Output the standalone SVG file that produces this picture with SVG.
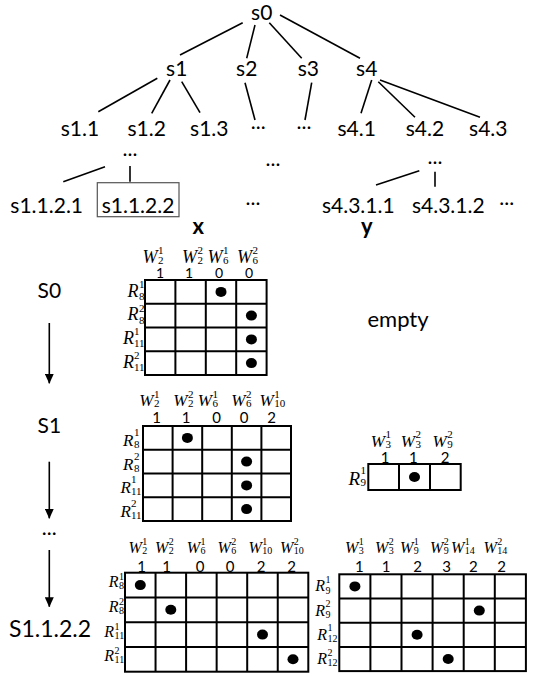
<svg xmlns="http://www.w3.org/2000/svg" width="537" height="674" viewBox="0 0 537 674">
<style>
.t{font-family:Lato,"Noto Sans","DejaVu Sans",sans-serif;font-size:21px;fill:#000;text-anchor:middle}
.b{font-family:Lato,"Noto Sans",sans-serif;font-size:22px;font-weight:bold;text-anchor:middle}
.e{stroke:#000;stroke-width:1.6;fill:none}
.grid{stroke:#000;stroke-width:2;fill:none}
.dot{fill:#000}
.v{font-family:"Liberation Serif","Times New Roman",serif;font-style:italic;fill:#000}
.s{font-style:normal}
.n{font-family:Lato,"Noto Sans",sans-serif;fill:#000;text-anchor:middle}
.arr{stroke:#000;stroke-width:1.6;fill:none}
</style>
<defs>
<marker id="ah" markerUnits="userSpaceOnUse" markerWidth="10" markerHeight="9" refX="9.5" refY="4.5" orient="auto" viewBox="0 0 10 9">
<path d="M0,0 L10,4.5 L0,9 Z" fill="#000"/>
</marker>
</defs>
<rect width="537" height="674" fill="#fff"/>

<g id="connectors">
<line class="e" x1="242.7" y1="22.7" x2="180" y2="55"/>
<line class="e" x1="255" y1="25" x2="246.7" y2="58.3"/>
<line class="e" x1="269.3" y1="22.7" x2="301.7" y2="58.3"/>
<line class="e" x1="280" y1="15" x2="360" y2="58.3"/>
<line class="e" x1="157.3" y1="78.3" x2="98.3" y2="111.7"/>
<line class="e" x1="170" y1="80" x2="151.7" y2="113.3"/>
<line class="e" x1="181.7" y1="81.7" x2="200" y2="112.7"/>
<line class="e" x1="245" y1="82.7" x2="255" y2="120"/>
<line class="e" x1="311.7" y1="82.7" x2="305" y2="120"/>
<line class="e" x1="371.7" y1="80" x2="361" y2="113.3"/>
<line class="e" x1="378.3" y1="81.7" x2="415" y2="117.3"/>
<line class="e" x1="380" y1="80" x2="480" y2="117.3"/>
<line class="e" x1="105" y1="166.7" x2="63.3" y2="181.7"/>
<line class="e" x1="130" y1="166" x2="130" y2="181.7"/>
<line class="e" x1="419.3" y1="170.7" x2="376" y2="185"/>
<line class="e" x1="435" y1="171.7" x2="435" y2="186.7"/>
<line class="arr" x1="49.3" y1="323" x2="49.3" y2="383.3" marker-end="url(#ah)"/>
<line class="arr" x1="49.3" y1="461.7" x2="49.3" y2="518.3" marker-end="url(#ah)"/>
<line class="arr" x1="49.3" y1="550" x2="49.3" y2="606.7" marker-end="url(#ah)"/>
</g>

<g id="s0"><text class="t" x="261.7" y="20">s0</text></g>
<g id="s1"><text class="t" x="176.7" y="76">s1</text></g>
<g id="s2"><text class="t" x="246.7" y="76">s2</text></g>
<g id="s3"><text class="t" x="308.3" y="76">s3</text></g>
<g id="s4"><text class="t" x="366.7" y="76">s4</text></g>
<g id="s1_1"><text class="t" x="80" y="136">s1.1</text></g>
<g id="s1_2"><text class="t" x="146.7" y="136">s1.2</text></g>
<g id="s1_3"><text class="t" x="209.3" y="136">s1.3</text></g>
<g id="s2_more"><text class="t" x="258.3" y="129">...</text></g>
<g id="s3_more"><text class="t" x="304" y="129">...</text></g>
<g id="s4_1"><text class="t" x="356.7" y="136">s4.1</text></g>
<g id="s4_2"><text class="t" x="425" y="136">s4.2</text></g>
<g id="s4_3"><text class="t" x="488.3" y="136">s4.3</text></g>
<g id="s1_2_more"><text class="t" x="130" y="156">...</text></g>
<g id="mid_more"><text class="t" x="273" y="166">...</text></g>
<g id="s4_3_more"><text class="t" x="435" y="163.5">...</text></g>
<g id="s1_1_2_1"><text class="t" x="46.7" y="213">s1.1.2.1</text></g>
<g id="s1_1_2_2"><rect x="97.3" y="182.7" width="81.7" height="34" fill="none" stroke="#555" stroke-width="1.2"/><text class="t" x="138" y="213">s1.1.2.2</text></g>
<g id="row4_more"><text class="t" x="253" y="204.5">...</text></g>
<g id="s4_3_1_1"><text class="t" x="358.3" y="213">s4.3.1.1</text></g>
<g id="s4_3_1_2"><text class="t" x="448.3" y="213">s4.3.1.2</text></g>
<g id="row4_more2"><text class="t" x="506.7" y="204.5">...</text></g>
<g id="label_x"><text class="b" x="198.3" y="234">x</text></g>
<g id="label_y"><text class="b" x="366.7" y="234">y</text></g>

<g id="stage_S0"><text class="t" x="49.3" y="298.3">S0</text></g>
<g id="stage_S1"><text class="t" x="49.3" y="433.3">S1</text></g>
<g id="stage_more"><text class="t" x="49.3" y="534.5">...</text></g>
<g id="stage_S1_1_2_2"><text class="t" x="50" y="636.7" style="font-size:23px">S1.1.2.2</text></g>

<g id="empty"><text class="t" x="398" y="327" style="font-size:22px">empty</text></g>

<!-- Matrix 1 -->
<g id="matrix1">
<rect class="grid" x="145" y="280" width="121.6" height="95"/>
<path class="grid" d="M175.4,280V375M205.8,280V375M236.2,280V375M145,303.75H266.6M145,327.5H266.6M145,351.25H266.6"/>
<ellipse class="dot" cx="221" cy="291.9" rx="5.5" ry="5"/>
<ellipse class="dot" cx="251.4" cy="315.6" rx="5.5" ry="5"/>
<ellipse class="dot" cx="251.4" cy="339.4" rx="5.5" ry="5"/>
<ellipse class="dot" cx="251.4" cy="363.1" rx="5.5" ry="5"/>
<g font-size="18">
<text class="v"><tspan x="142.5" y="263">W</tspan><tspan class="s" font-size="11" x="158" y="254">1</tspan><tspan class="s" font-size="11" x="158" y="264">2</tspan></text>
<text class="v"><tspan x="182" y="263">W</tspan><tspan class="s" font-size="11" x="197.5" y="254">2</tspan><tspan class="s" font-size="11" x="197.5" y="264">2</tspan></text>
<text class="v"><tspan x="207.5" y="263">W</tspan><tspan class="s" font-size="11" x="223" y="254">1</tspan><tspan class="s" font-size="11" x="223" y="264">6</tspan></text>
<text class="v"><tspan x="237" y="263">W</tspan><tspan class="s" font-size="11" x="252.5" y="254">2</tspan><tspan class="s" font-size="11" x="252.5" y="264">6</tspan></text>
<text class="v"><tspan x="127.5" y="296.6">R</tspan><tspan class="s" font-size="11" x="139" y="288">1</tspan><tspan class="s" font-size="11" x="139" y="300">8</tspan></text>
<text class="v"><tspan x="127.5" y="320.4">R</tspan><tspan class="s" font-size="11" x="139" y="311.6">2</tspan><tspan class="s" font-size="11" x="139" y="323.6">8</tspan></text>
<text class="v"><tspan x="123" y="344.1">R</tspan><tspan class="s" font-size="11" x="134" y="335.4">1</tspan><tspan class="s" font-size="11" x="134" y="347.4">11</tspan></text>
<text class="v"><tspan x="123" y="367.9">R</tspan><tspan class="s" font-size="11" x="134" y="359.1">2</tspan><tspan class="s" font-size="11" x="134" y="371.1">11</tspan></text>
</g>
<g font-size="14">
<text class="n" x="160" y="277.5">1</text><text class="n" x="189" y="277.5">1</text><text class="n" x="219" y="277.5">0</text><text class="n" x="249" y="277.5">0</text>
</g>
</g>

<!-- Matrix 2 -->
<g id="matrix2">
<rect class="grid" x="143" y="426" width="148" height="95"/>
<path class="grid" d="M172.6,426V521M202.2,426V521M231.8,426V521M261.4,426V521M143,449.75H291M143,473.5H291M143,497.25H291"/>
<ellipse class="dot" cx="187.4" cy="437.9" rx="5.5" ry="5"/>
<ellipse class="dot" cx="246.6" cy="461.6" rx="5.5" ry="5"/>
<ellipse class="dot" cx="246.6" cy="485.4" rx="5.5" ry="5"/>
<ellipse class="dot" cx="246.6" cy="509.1" rx="5.5" ry="5"/>
<g font-size="17">
<text class="v"><tspan x="139.3" y="406">W</tspan><tspan class="s" font-size="11" x="154" y="397.5">1</tspan><tspan class="s" font-size="11" x="154" y="407">2</tspan></text>
<text class="v"><tspan x="173.3" y="406">W</tspan><tspan class="s" font-size="11" x="188" y="397.5">2</tspan><tspan class="s" font-size="11" x="188" y="407">2</tspan></text>
<text class="v"><tspan x="197.8" y="406">W</tspan><tspan class="s" font-size="11" x="212.5" y="397.5">1</tspan><tspan class="s" font-size="11" x="212.5" y="407">6</tspan></text>
<text class="v"><tspan x="231.3" y="406">W</tspan><tspan class="s" font-size="11" x="246" y="397.5">2</tspan><tspan class="s" font-size="11" x="246" y="407">6</tspan></text>
<text class="v"><tspan x="259.5" y="406">W</tspan><tspan class="s" font-size="11" x="274.2" y="397.5">1</tspan><tspan class="s" font-size="11" x="274.2" y="407">10</tspan></text>
<text class="v"><tspan x="123.1" y="445.9">R</tspan><tspan class="s" font-size="11" x="134" y="435.9">1</tspan><tspan class="s" font-size="11" x="134" y="447.9">8</tspan></text>
<text class="v"><tspan x="123.1" y="469.6">R</tspan><tspan class="s" font-size="11" x="134" y="459.6">2</tspan><tspan class="s" font-size="11" x="134" y="471.6">8</tspan></text>
<text class="v"><tspan x="120.6" y="493.4">R</tspan><tspan class="s" font-size="11" x="131" y="483.4">1</tspan><tspan class="s" font-size="11" x="131" y="495.4">11</tspan></text>
<text class="v"><tspan x="120.6" y="517.1">R</tspan><tspan class="s" font-size="11" x="131" y="507.1">2</tspan><tspan class="s" font-size="11" x="131" y="519.1">11</tspan></text>
</g>
<g font-size="15">
<text class="n" x="156.7" y="423">1</text><text class="n" x="186" y="423">1</text><text class="n" x="216.7" y="423">0</text><text class="n" x="244" y="423">0</text><text class="n" x="271.7" y="423">2</text>
</g>
</g>

<!-- Matrix 3 -->
<g id="matrix3">
<rect class="grid" x="368.3" y="464" width="92.4" height="26"/>
<path class="grid" d="M399,464V490M430,464V490"/>
<ellipse class="dot" cx="414.5" cy="477" rx="5.5" ry="5"/>
<g font-size="17">
<text class="v"><tspan x="370.8" y="446.7">W</tspan><tspan class="s" font-size="11" x="385.5" y="438.2">1</tspan><tspan class="s" font-size="11" x="385.5" y="447.7">3</tspan></text>
<text class="v"><tspan x="400.8" y="446.7">W</tspan><tspan class="s" font-size="11" x="415.5" y="438.2">2</tspan><tspan class="s" font-size="11" x="415.5" y="447.7">3</tspan></text>
<text class="v"><tspan x="432.5" y="446.7">W</tspan><tspan class="s" font-size="11" x="447.2" y="438.2">2</tspan><tspan class="s" font-size="11" x="447.2" y="447.7">9</tspan></text>
<text class="v" font-size="19"><tspan x="348.4" y="485">R</tspan><tspan class="s" font-size="11" x="360.5" y="474">1</tspan><tspan class="s" font-size="11" x="360.5" y="486">9</tspan></text>
</g>
<g font-size="15">
<text class="n" x="385" y="463">1</text><text class="n" x="413.3" y="463">1</text><text class="n" x="445" y="463">2</text>
</g>
</g>

<!-- Matrix 4 -->
<g id="matrix4">
<rect class="grid" x="125" y="572.7" width="183.3" height="99"/>
<path class="grid" d="M155.55,572.7V671.7M186.1,572.7V671.7M216.65,572.7V671.7M247.2,572.7V671.7M277.75,572.7V671.7M125,597.45H308.3M125,622.2H308.3M125,646.95H308.3"/>
<ellipse class="dot" cx="140.3" cy="585.1" rx="5.5" ry="5"/>
<ellipse class="dot" cx="170.8" cy="609.8" rx="5.5" ry="5"/>
<ellipse class="dot" cx="262.5" cy="634.6" rx="5.5" ry="5"/>
<ellipse class="dot" cx="293" cy="659.3" rx="5.5" ry="5"/>
<g font-size="16">
<text class="v"><tspan x="128.4" y="553">W</tspan><tspan class="s" font-size="10" x="142.2" y="545">1</tspan><tspan class="s" font-size="10" x="142.2" y="554">2</tspan></text>
<text class="v"><tspan x="155" y="553">W</tspan><tspan class="s" font-size="10" x="168.8" y="545">2</tspan><tspan class="s" font-size="10" x="168.8" y="554">2</tspan></text>
<text class="v"><tspan x="186.7" y="553">W</tspan><tspan class="s" font-size="10" x="200.5" y="545">1</tspan><tspan class="s" font-size="10" x="200.5" y="554">6</tspan></text>
<text class="v"><tspan x="217.4" y="553">W</tspan><tspan class="s" font-size="10" x="231.2" y="545">2</tspan><tspan class="s" font-size="10" x="231.2" y="554">6</tspan></text>
<text class="v"><tspan x="248.4" y="553">W</tspan><tspan class="s" font-size="10" x="262.2" y="545">1</tspan><tspan class="s" font-size="10" x="262.2" y="554">10</tspan></text>
<text class="v"><tspan x="280" y="553">W</tspan><tspan class="s" font-size="10" x="293.8" y="545">2</tspan><tspan class="s" font-size="10" x="293.8" y="554">10</tspan></text>
<text class="v"><tspan x="108.7" y="587.1">R</tspan><tspan class="s" font-size="10" x="119" y="580">1</tspan><tspan class="s" font-size="10" x="119" y="589">8</tspan></text>
<text class="v"><tspan x="108.7" y="611.8">R</tspan><tspan class="s" font-size="10" x="119" y="604.8">2</tspan><tspan class="s" font-size="10" x="119" y="613.8">8</tspan></text>
<text class="v"><tspan x="104.2" y="636.6">R</tspan><tspan class="s" font-size="10" x="114.5" y="629.6">1</tspan><tspan class="s" font-size="10" x="114.5" y="638.6">11</tspan></text>
<text class="v"><tspan x="104.2" y="661.3">R</tspan><tspan class="s" font-size="10" x="114.5" y="654.3">2</tspan><tspan class="s" font-size="10" x="114.5" y="663.3">11</tspan></text>
</g>
<g font-size="15">
<text class="n" x="141.7" y="571.5">1</text><text class="n" x="166.7" y="571.5">1</text><text class="n" x="200" y="571.5">0</text><text class="n" x="230" y="571.5">0</text><text class="n" x="261" y="571.5">2</text><text class="n" x="291.7" y="571.5">2</text>
</g>
</g>

<!-- Matrix 5 -->
<g id="matrix5">
<rect class="grid" x="339.3" y="574.3" width="186.6" height="96.8"/>
<path class="grid" d="M370.4,574.3V671.1M401.5,574.3V671.1M432.6,574.3V671.1M463.7,574.3V671.1M494.8,574.3V671.1M339.3,598.5H525.9M339.3,622.7H525.9M339.3,646.9H525.9"/>
<ellipse class="dot" cx="354.9" cy="586.4" rx="5.5" ry="5"/>
<ellipse class="dot" cx="479.3" cy="610.6" rx="5.5" ry="5"/>
<ellipse class="dot" cx="417.1" cy="634.8" rx="5.5" ry="5"/>
<ellipse class="dot" cx="448.2" cy="659" rx="5.5" ry="5"/>
<g font-size="16">
<text class="v"><tspan x="345" y="553">W</tspan><tspan class="s" font-size="10" x="358.8" y="545">1</tspan><tspan class="s" font-size="10" x="358.8" y="554">3</tspan></text>
<text class="v"><tspan x="375" y="553">W</tspan><tspan class="s" font-size="10" x="388.8" y="545">2</tspan><tspan class="s" font-size="10" x="388.8" y="554">3</tspan></text>
<text class="v"><tspan x="400" y="553">W</tspan><tspan class="s" font-size="10" x="413.8" y="545">1</tspan><tspan class="s" font-size="10" x="413.8" y="554">9</tspan></text>
<text class="v"><tspan x="430" y="553">W</tspan><tspan class="s" font-size="10" x="443.8" y="545">2</tspan><tspan class="s" font-size="10" x="443.8" y="554">9</tspan></text>
<text class="v"><tspan x="451" y="553">W</tspan><tspan class="s" font-size="10" x="464.8" y="545">1</tspan><tspan class="s" font-size="10" x="464.8" y="554">14</tspan></text>
<text class="v"><tspan x="483.4" y="553">W</tspan><tspan class="s" font-size="10" x="497.2" y="545">2</tspan><tspan class="s" font-size="10" x="497.2" y="554">14</tspan></text>
<text class="v"><tspan x="315.2" y="591.4">R</tspan><tspan class="s" font-size="10" x="325.5" y="583">1</tspan><tspan class="s" font-size="10" x="325.5" y="593.5">9</tspan></text>
<text class="v"><tspan x="315.2" y="615.6">R</tspan><tspan class="s" font-size="10" x="325.5" y="607.2">2</tspan><tspan class="s" font-size="10" x="325.5" y="617.7">9</tspan></text>
<text class="v"><tspan x="317.2" y="639.8">R</tspan><tspan class="s" font-size="10" x="327.5" y="631.4">1</tspan><tspan class="s" font-size="10" x="327.5" y="641.9">12</tspan></text>
<text class="v"><tspan x="317.2" y="664">R</tspan><tspan class="s" font-size="10" x="327.5" y="655.6">2</tspan><tspan class="s" font-size="10" x="327.5" y="666.1">12</tspan></text>
</g>
<g font-size="15">
<text class="n" x="359.3" y="572">1</text><text class="n" x="386" y="572">1</text><text class="n" x="417.5" y="572">2</text><text class="n" x="446.7" y="572">3</text><text class="n" x="473.3" y="572">2</text><text class="n" x="501.7" y="572">2</text>
</g>
</g>
</svg>
